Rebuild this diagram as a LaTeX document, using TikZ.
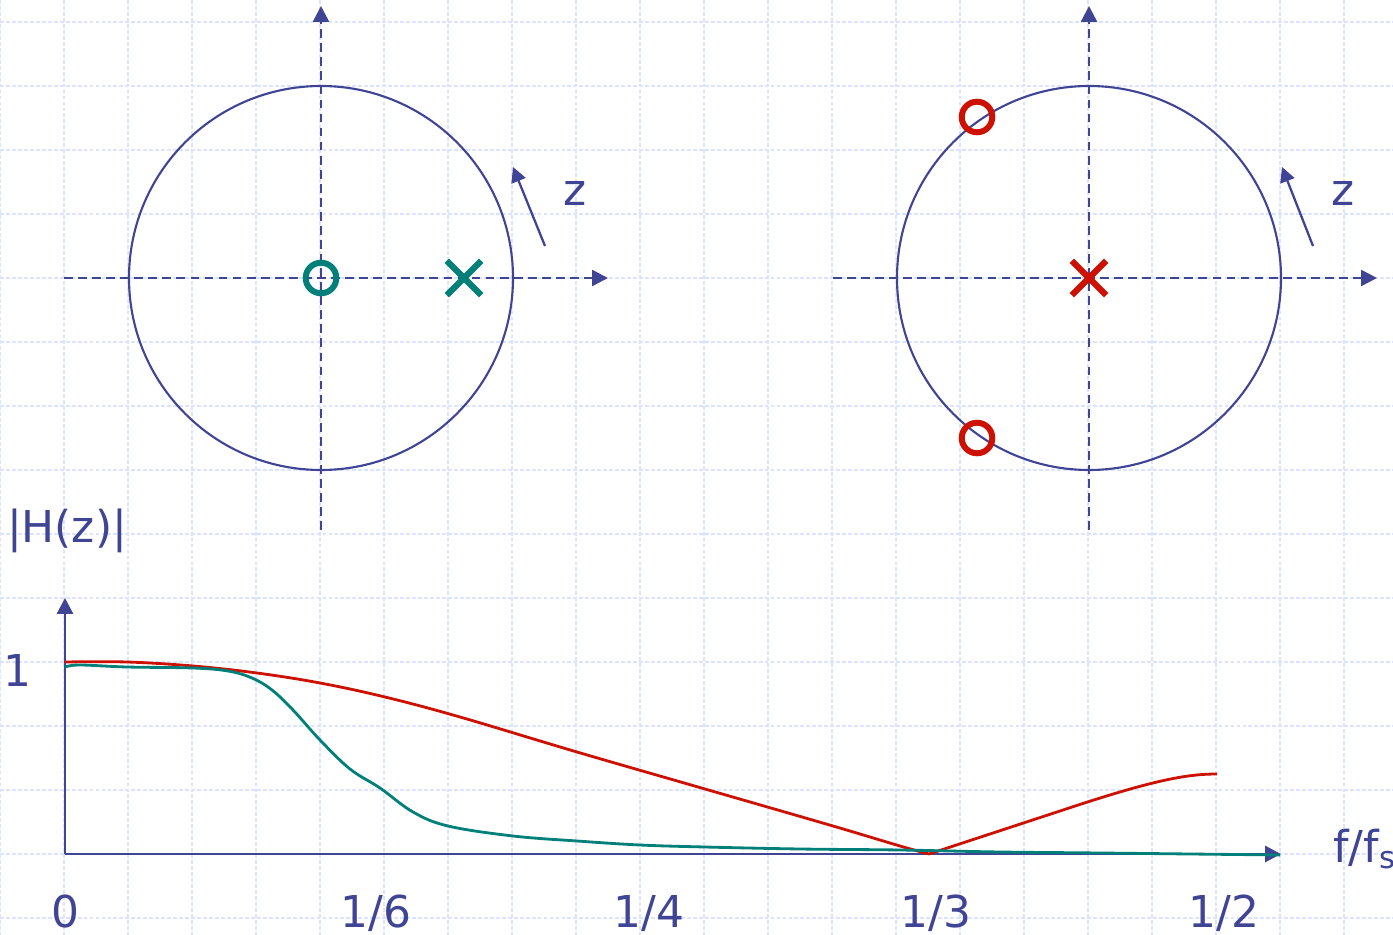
\documentclass[tikz,border=0pt]{standalone}
\usepackage{fontspec}
\setmainfont{DejaVu Sans}
\usetikzlibrary{arrows.meta,shapes.misc}
\definecolor{navy}{RGB}{64,68,148}
\definecolor{tealmark}{RGB}{0,128,120}
\definecolor{redmark}{RGB}{204,17,0}
\definecolor{gridblue}{RGB}{218,227,255}

\begin{document}
\begin{tikzpicture}[x=0.02cm,y=-0.02cm,
  gridline/.style={gridblue,line width=0.8pt,dash pattern=on 2.2pt off 1.2pt},
  axisdash/.style={navy,line width=1.4pt,dash pattern=on 5pt off 3pt,-{Triangle[length=9pt,width=9pt]}},
  axissolid/.style={navy,line width=1.7pt,-{Triangle[length=9pt,width=9pt]}},
  rotarrow/.style={navy,line width=1.3pt,-{Triangle[length=8.5pt,width=8.5pt]}},
  unitcircle/.style={navy,line width=1.2pt},
  zeroring/.style={circle,draw=#1,line width=3.4pt,minimum size=17.4pt,inner sep=0pt},
  polecross/.style={cross out,draw=#1,line width=3.6pt,minimum size=16pt,inner sep=0pt},
  magcurve/.style={line width=1.6pt,#1},
  txt/.style={text=navy,font=\fontsize{25}{30}\selectfont,inner sep=0pt}]
\fill[white] (0,0) rectangle (1393,935);
\useasboundingbox (0,0) rectangle (1393,935);

% background grid
\foreach \x in {0,64,...,1344} \draw[gridline] (\x,0) -- (\x,935);
\foreach \y in {22,86,...,918} \draw[gridline] (0,\y) -- (1393,\y);

% left z-plane
\coordinate (lW) at (64,278); \coordinate (lE) at (608,278);
\coordinate (lS) at (321,530); \coordinate (lN) at (321,6);
\draw[axisdash] (lW) -- (lE);
\draw[axisdash] (lS) -- (lN);
\draw[unitcircle] (321,278) circle (192);
\coordinate (lA) at (545,246); \coordinate (lB) at (513,167);
\draw[rotarrow] (lA) -- (lB);
\node[txt,anchor=base] (lz) at (575,206) {z};
\node[zeroring=tealmark] (lzero) at (321,278) {};
\node[polecross=tealmark] (lpole) at (464,278) {};

% right z-plane
\coordinate (rW) at (833,278); \coordinate (rE) at (1377,278);
\coordinate (rS) at (1089,530); \coordinate (rN) at (1089,6);
\draw[axisdash] (rW) -- (rE);
\draw[axisdash] (rS) -- (rN);
\draw[unitcircle] (1089,278) circle (192);
\coordinate (rA) at (1313,246); \coordinate (rB) at (1282,167);
\draw[rotarrow] (rA) -- (rB);
\node[txt,anchor=base] (rz) at (1343,206) {z};
\foreach \y/\n in {117/a,438/b} \node[zeroring=redmark] (rzero\n) at (977,\y) {};
\node[polecross=redmark] (rpole) at (1089,278) {};

% magnitude response
\coordinate (o) at (65,854); \coordinate (yt) at (65,598); \coordinate (xt) at (1281,854);
\draw[axissolid] (o) -- (yt);
\draw[axissolid] (o) -- (xt);
\node[txt,anchor=base] (habs) at (67,542) {|H(z)|};
\node[txt,anchor=base] (one) at (17,686) {1};
\foreach \x/\t/\n in {65/0/f0,376/1\slash6/f6,649/1\slash4/f4,936/1\slash3/f3,1224/1\slash2/f2}
  \node[txt,anchor=base] (\n) at (\x,927) {\t};
\node[txt,anchor=base west] (fs) at (1333,862) {f/f\textsubscript{s}};

\draw[magcurve=redmark] plot[smooth,tension=0.6] coordinates {(65,662) (127,662) (193,666) (257,673) (320,683) (385,697) (460,717) (577,752) (705,789) (833,826) (900,846) (929,854)};
\draw[magcurve=redmark] (929,854) -- (1060,811) .. controls (1150,781) and (1185,774) .. (1217,774);
\draw[magcurve=tealmark] plot[smooth,tension=0.6] coordinates {(65,667) (80,665) (127,667) (193,668) (228,671) (252,678) (272,690) (293,710) (320,740) (350,769) (380,788) (413,812) (448,826) (513,836) (577,841) (640,845) (705,847) (800,849) (900,850) (1000,852) (1100,853) (1280,855)};

\end{tikzpicture}
\end{document}
